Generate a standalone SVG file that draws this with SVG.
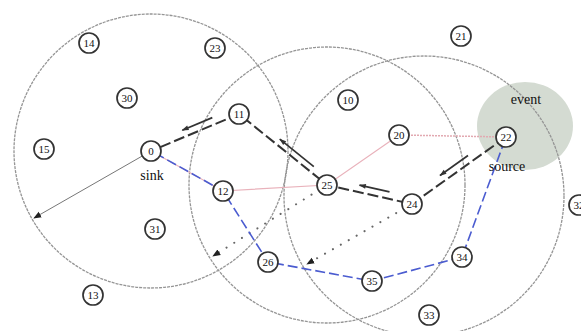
<svg xmlns="http://www.w3.org/2000/svg" width="581" height="331" viewBox="0 0 581 331">
<style>
.range{fill:none;stroke:#959595;stroke-width:1.3;stroke-dasharray:3,1}
.node circle{fill:#fff;stroke:#333;stroke-width:1.7}
.node text{font-family:"Liberation Serif",serif;font-size:11px;fill:#111;text-anchor:middle}
.lbl{font-family:"Liberation Serif",serif;font-size:14px;fill:#111;text-anchor:middle}
.route{fill:none;stroke:#333;stroke-width:2;stroke-dasharray:11,4}
.blue{fill:none;stroke:#4b5cd0;stroke-width:1.6;stroke-dasharray:10,4}
.pink{fill:none;stroke:#e9b2bb;stroke-width:1.2}
.pinkdot{fill:none;stroke:#e2a9b1;stroke-width:1.5;stroke-dasharray:2,1}
.dir{fill:none;stroke:#333;stroke-width:1.7;marker-end:url(#ah)}
.dots{fill:none;stroke:#666;stroke-width:2;stroke-dasharray:0.1,9;stroke-linecap:round;marker-end:url(#ah2)}
.rad{fill:none;stroke:#777;stroke-width:1;marker-end:url(#ah2)}
</style>
<defs>
<marker id="ah" viewBox="0 0 10 10" refX="9" refY="5" markerWidth="8" markerHeight="7" orient="auto" markerUnits="userSpaceOnUse"><path d="M0,1.5 L10,5 L0,8.5 Z" fill="#333"/></marker>
<marker id="ah2" viewBox="0 0 10 10" refX="9" refY="5" markerWidth="8" markerHeight="8" orient="auto" markerUnits="userSpaceOnUse"><path d="M0,1 L10,5 L0,9 Z" fill="#222"/></marker>
</defs>
<rect width="581" height="331" fill="#fff"/>
<ellipse cx="525" cy="126" rx="48" ry="44" fill="#d4dbd2"/>
<g id="ranges">
<circle class="range" cx="151" cy="151" r="137"/>
<circle class="range" cx="327" cy="185" r="138"/>
<circle class="range" cx="424" cy="196" r="140"/>
</g>
<g id="connectors">
<line class="rad" x1="151" y1="151" x2="34" y2="218"/>
<line class="dots" x1="327" y1="185" x2="213" y2="256"/>
<line class="dots" x1="412" y1="204" x2="307" y2="264"/>
<polyline class="pink" points="151,151 223,191 327,185 399,135"/>
<line class="pinkdot" x1="399" y1="135" x2="506" y2="137"/>
<polyline class="blue" points="155,153 223,191 268,262 372,281 462,257 506,137"/>
<polyline class="route" points="506,137 412,204 327,185 239,114 151,151"/>
<line class="dir" x1="468" y1="155.5" x2="440" y2="175.5"/>
<line class="dir" x1="389.5" y1="191.8" x2="359.5" y2="185.1"/>
<line class="dir" x1="313.8" y1="166.6" x2="279.8" y2="139.2"/>
<line class="dir" x1="212.3" y1="117.6" x2="182.3" y2="130.2"/>
</g>
<text class="lbl" x="526" y="104">event</text>
<text class="lbl" x="507" y="171">source</text>
<text class="lbl" x="152" y="180">sink</text>
<g id="n14" class="node"><circle cx="89" cy="43" r="10"/><text x="89" y="47">14</text></g>
<g id="n23" class="node"><circle cx="215" cy="48" r="10"/><text x="215" y="52">23</text></g>
<g id="n30" class="node"><circle cx="127" cy="98" r="10"/><text x="127" y="102">30</text></g>
<g id="n15" class="node"><circle cx="44" cy="149" r="10"/><text x="44" y="153">15</text></g>
<g id="n0" class="node"><circle cx="151" cy="151" r="10"/><text x="151" y="155">0</text></g>
<g id="n11" class="node"><circle cx="239" cy="114" r="10"/><text x="239" y="118">11</text></g>
<g id="n10" class="node"><circle cx="348" cy="100" r="10"/><text x="348" y="104">10</text></g>
<g id="n21" class="node"><circle cx="461" cy="36" r="10"/><text x="461" y="40">21</text></g>
<g id="n20" class="node"><circle cx="399" cy="135" r="10"/><text x="399" y="139">20</text></g>
<g id="n22" class="node"><circle cx="506" cy="137" r="10"/><text x="506" y="141">22</text></g>
<g id="n12" class="node"><circle cx="223" cy="191" r="10"/><text x="223" y="195">12</text></g>
<g id="n25" class="node"><circle cx="327" cy="185" r="10"/><text x="327" y="189">25</text></g>
<g id="n24" class="node"><circle cx="412" cy="204" r="10"/><text x="412" y="208">24</text></g>
<g id="n31" class="node"><circle cx="155" cy="229" r="10"/><text x="155" y="233">31</text></g>
<g id="n26" class="node"><circle cx="268" cy="262" r="10"/><text x="268" y="266">26</text></g>
<g id="n35" class="node"><circle cx="372" cy="281" r="10"/><text x="372" y="285">35</text></g>
<g id="n34" class="node"><circle cx="462" cy="257" r="10"/><text x="462" y="261">34</text></g>
<g id="n33" class="node"><circle cx="429" cy="315" r="10"/><text x="429" y="319">33</text></g>
<g id="n13" class="node"><circle cx="93" cy="295" r="10"/><text x="93" y="299">13</text></g>
<g id="n32" class="node"><circle cx="579" cy="205" r="10"/><text x="579" y="209">32</text></g>
</svg>
